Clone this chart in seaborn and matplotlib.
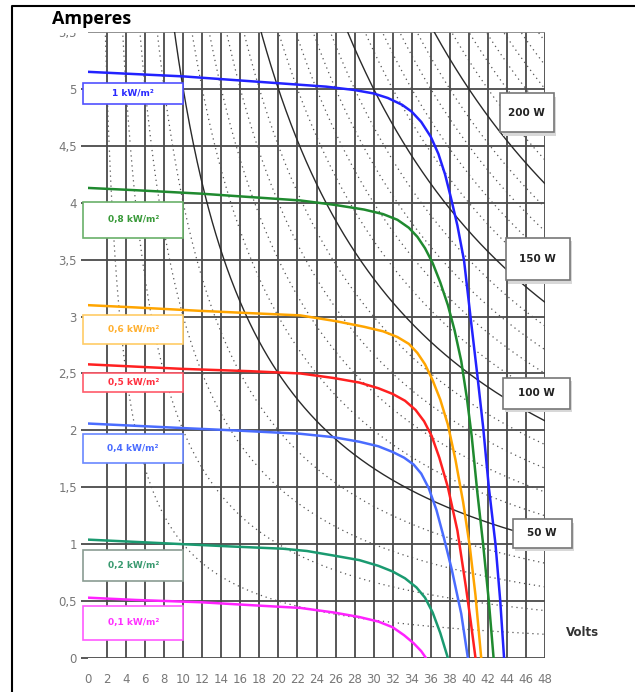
import numpy as np
import pandas as pd
import matplotlib
matplotlib.use("Agg")
import matplotlib.pyplot as plt
from matplotlib.patches import Rectangle
from matplotlib.lines import Line2D
import seaborn as sns

# ---------------- data ----------------
irradiance_labels = ["1 kW/m²", "0,8 kW/m²", "0,6 kW/m²", "0,5 kW/m²",
                     "0,4 kW/m²", "0,2 kW/m²", "0,1 kW/m²"]

v_1000 = [0, 5, 10, 15, 20, 25, 28, 30, 31.5, 33, 34, 35, 36, 36.8, 37.5, 38.1, 38.8,
          39.5, 40.2, 40.9, 41.5, 42.1, 42.8, 43.3, 43.7]
i_1000 = [5.15, 5.13, 5.11, 5.08, 5.05, 5.02, 4.99, 4.96, 4.92, 4.86, 4.80, 4.71, 4.58, 4.43, 4.25, 4.05, 3.80,
          3.49, 2.98, 2.48, 2.03, 1.50, 1.00, 0.50, 0.0]

v_800 = [0, 5, 11.8, 17, 22.3, 26, 29, 31, 32.5, 33.7, 34.6, 35.4, 36.2, 37, 37.8, 38.5,
         39.2, 39.8, 40.3, 40.9, 41.5, 42.1, 42.6]
i_800 = [4.13, 4.11, 4.08, 4.05, 4.02, 3.98, 3.94, 3.90, 3.85, 3.78, 3.70, 3.60, 3.47, 3.30, 3.10, 2.88,
         2.61, 2.28, 1.95, 1.45, 1.00, 0.50, 0.0]

v_600 = [0, 5, 11.8, 17, 22.3, 26, 29, 31, 32.5, 33.7, 34.6, 35.4, 36.2, 37, 37.8, 38.6,
         39.4, 40.1, 40.7, 41.3]
i_600 = [3.10, 3.08, 3.05, 3.03, 3.01, 2.96, 2.91, 2.87, 2.82, 2.76, 2.68, 2.58, 2.44, 2.27, 2.05, 1.74,
         1.37, 0.98, 0.55, 0.0]

v_500 = [0, 5, 10, 17, 22.3, 25.8, 28.5, 30.5, 32, 33.3, 34.4, 35.3, 36.1, 36.9, 37.8, 38.8,
         39.7, 40.2, 40.7]
i_500 = [2.58, 2.56, 2.54, 2.52, 2.50, 2.46, 2.42, 2.37, 2.32, 2.26, 2.18, 2.08, 1.95, 1.76, 1.50, 1.12,
         0.62, 0.32, 0.0]

v_400 = [0, 5, 10, 15.3, 22.3, 25.8, 28.5, 30.5, 32, 33.2, 34.2, 35, 35.8, 36.6, 37.4, 38.2, 39.2, 39.9]
i_400 = [2.06, 2.04, 2.02, 2.00, 1.97, 1.94, 1.90, 1.86, 1.81, 1.76, 1.70, 1.62, 1.49, 1.30, 1.05, 0.78, 0.39, 0.0]

v_200 = [0, 5, 10, 15, 20.5, 23, 25.8, 28.5, 30.5, 32, 33.3, 34.5, 35.4, 36.2, 37, 37.8]
i_200 = [1.04, 1.02, 1.00, 0.98, 0.96, 0.94, 0.90, 0.86, 0.81, 0.76, 0.70, 0.62, 0.53, 0.40, 0.22, 0.0]

v_100 = [0, 5, 11.8, 18, 22.3, 25.8, 28.5, 30.5, 32, 33.2, 34.2, 35, 35.5]
i_100 = [0.53, 0.51, 0.49, 0.46, 0.44, 0.40, 0.36, 0.32, 0.27, 0.20, 0.13, 0.06, 0.0]

curve_colors = ["#2222ff", "#1f8a2f", "#ffa500", "#ff2020", "#4a6cff", "#1a9a70", "#ff22ff"]
box_edge_colors = ["#5050ff", "#6ab06a", "#ffcc66", "#ff5a6a", "#6a88ff", "#8a9c92", "#ff5aff"]
text_colors = ["#2a2aff", "#3a9a3a", "#ffb030", "#ff3040", "#4a6cff", "#3a9a70", "#ff30ff"]

# label box positions (V from, V to, I bottom, I top)
label_box_v = (-0.5, 10.0)
label_box_i = [(4.87, 5.05), (3.69, 4.01), (2.76, 3.01), (2.34, 2.50),
               (1.71, 1.97), (0.68, 0.95), (0.16, 0.46)]

solid_powers = [50, 100, 150, 200]
dotted_powers = [10, 20, 30, 40, 60, 70, 80, 90, 110, 120, 130, 140, 160, 170, 180, 190,
                 210, 220, 230, 240, 250, 260]
power_labels = ["50 W", "100 W", "150 W", "200 W"]
power_boxes = [(44.6, 50.8, 0.97, 1.22), (43.6, 50.6, 2.19, 2.46),
               (43.9, 50.6, 3.32, 3.69), (43.3, 48.9, 4.62, 4.96)]

x_ticks = list(range(0, 49, 2))
y_ticks = [0, 0.5, 1, 1.5, 2, 2.5, 3, 3.5, 4, 4.5, 5, 5.5]
y_tick_labels = ["0", "0,5", "1", "1,5", "2", "2,5", "3", "3,5", "4", "4,5", "5", "5,5"]

# ---------------- figure ----------------
sns.set_style("white")
plt.rcParams["font.family"] = ["DejaVu Sans"]

W, H = 635, 692
fig = plt.figure(figsize=(W / 100, H / 100), dpi=100)
x0, x1 = 88, 545
y0, y1 = 658, 32
ax = fig.add_axes([x0 / W, 1 - y0 / H, (x1 - x0) / W, (y0 - y1) / H])
ax.set_xlim(0, 48)
ax.set_ylim(0, 5.5)
for s in ax.spines.values():
    s.set_visible(False)

grid_color = "#4a4a4a"
for xv in x_ticks[1:]:
    ax.axvline(xv, color=grid_color, lw=1.3, zorder=1)
for yv in y_ticks:
    ax.axhline(yv, color=grid_color if yv < 5.5 else "#888888", lw=1.3, zorder=1)

ax.set_xticks(x_ticks)
ax.set_xticklabels([str(t) for t in x_ticks])
ax.set_yticks(y_ticks)
ax.set_yticklabels(y_tick_labels)
ax.tick_params(axis="x", length=0, pad=11, labelsize=8.5, labelcolor="#777777")
ax.tick_params(axis="y", length=5, width=1.3, color=grid_color, pad=3,
               labelsize=8.5, labelcolor="#777777", left=True)

# iso-power hyperbolas
for p in dotted_powers:
    vv = np.linspace(p / 5.6, 48, 400)
    ax.plot(vv, p / vv, color="#555555", lw=0.9, ls=(0, (1, 3)), zorder=2)
for p in solid_powers:
    vv = np.linspace(p / 5.6, 48, 400)
    ax.plot(vv, p / vv, color="#2a2a2a", lw=1.0, zorder=2)

# I-V curves
all_v = [v_1000, v_800, v_600, v_500, v_400, v_200, v_100]
all_i = [i_1000, i_800, i_600, i_500, i_400, i_200, i_100]
frames = []
for lab, vs, is_ in zip(irradiance_labels, all_v, all_i):
    frames.append(pd.DataFrame({"V": vs, "I": is_, "irr": lab}))
df = pd.concat(frames, ignore_index=True)
sns.lineplot(data=df, x="V", y="I", hue="irr", hue_order=irradiance_labels,
             palette=curve_colors, sort=False, estimator=None, legend=False,
             lw=1.8, ax=ax, zorder=3)
for ln in ax.lines[-7:]:
    ln.set_solid_joinstyle("round")
ax.set_xlabel("")
ax.set_ylabel("")

# irradiance label boxes
for lab, (ib, it), ec, tc in zip(irradiance_labels, label_box_i, box_edge_colors, text_colors):
    r = Rectangle((label_box_v[0], ib), label_box_v[1] - label_box_v[0], it - ib,
                  facecolor="white", edgecolor=ec, lw=1.2, zorder=5, clip_on=False)
    ax.add_patch(r)
    ax.text((label_box_v[0] + label_box_v[1]) / 2, (ib + it) / 2, lab, color=tc,
            fontsize=6.5, fontweight="bold", ha="center", va="center", zorder=6)

# power label boxes
for lab, (va, vb, ib, it) in zip(power_labels, power_boxes):
    sh = Rectangle((va + 0.25, ib - 0.03), vb - va, it - ib, facecolor="#d8d8d8",
                   edgecolor="none", zorder=4, clip_on=False)
    ax.add_patch(sh)
    r = Rectangle((va, ib), vb - va, it - ib, facecolor="white", edgecolor="#777777",
                  lw=1.2, zorder=5, clip_on=False)
    ax.add_patch(r)
    ax.text((va + vb) / 2, (ib + it) / 2, lab, color="#222222", fontsize=7.5,
            fontweight="bold", ha="center", va="center", zorder=6)

# hide the top half of the clipped "5,5" label (as in the source scan)
fig.patches.append(Rectangle((58 / W, 1 - 32.5 / H), 30 / W, 11 / H, transform=fig.transFigure,
                             facecolor="white", edgecolor="none", zorder=5))

# frame lines
fig.add_artist(Line2D([12 / W, 12 / W, 1.0], [0.0, 1 - 6 / H, 1 - 6 / H],
                      transform=fig.transFigure, color="black", lw=1.5, zorder=11))

fig.text(52 / W, 1 - 19 / H, "Amperes", fontsize=13, fontweight="bold",
         family=["Open Sans", "DejaVu Sans"], ha="left", va="center", color="black", zorder=10)
fig.text(583 / W, 1 - 632 / H, "Volts", fontsize=8.5, fontweight="bold",
         ha="center", va="center", color="#333333")

fig.savefig("out.png", dpi=100)
